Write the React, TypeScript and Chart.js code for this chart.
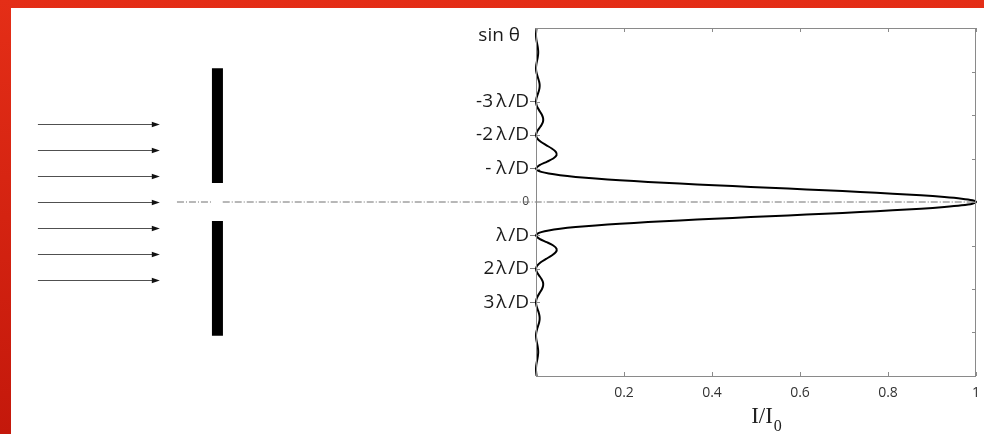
import React, { useEffect, useRef } from 'react';
import { Chart, registerables } from 'chart.js';

Chart.register(...registerables);

// sin θ in units of λ/D (axis reversed: negative values at the top)
const sinTheta = [
  -5.2, -5.1, -5.0, -4.9, -4.8, -4.7, -4.6, -4.5, -4.4, -4.3, -4.2, -4.1,
  -4.0, -3.9, -3.8, -3.7, -3.6, -3.5, -3.4, -3.3, -3.2, -3.1,
  -3.0, -2.9, -2.8, -2.7, -2.6, -2.5, -2.4, -2.3, -2.2, -2.1,
  -2.0, -1.9, -1.8, -1.7, -1.6, -1.5, -1.4, -1.3, -1.2, -1.1,
  -1.0, -0.95, -0.9, -0.85, -0.8, -0.75, -0.7, -0.65, -0.6, -0.55, -0.5,
  -0.45, -0.4, -0.35, -0.3, -0.25, -0.2, -0.15, -0.1, -0.05,
  0,
  0.05, 0.1, 0.15, 0.2, 0.25, 0.3, 0.35, 0.4, 0.45,
  0.5, 0.55, 0.6, 0.65, 0.7, 0.75, 0.8, 0.85, 0.9, 0.95, 1.0,
  1.1, 1.2, 1.3, 1.4, 1.5, 1.6, 1.7, 1.8, 1.9, 2.0,
  2.1, 2.2, 2.3, 2.4, 2.5, 2.6, 2.7, 2.8, 2.9, 3.0,
  3.1, 3.2, 3.3, 3.4, 3.5, 3.6, 3.7, 3.8, 3.9, 4.0,
  4.1, 4.2, 4.3, 4.4, 4.5, 4.6, 4.7, 4.8, 4.9, 5.0, 5.1, 5.2,
];

// I / I0
const intensity = [
  0.0013, 0.0004, 0, 0.0004, 0.0015, 0.0030, 0.0043, 0.0050, 0.0047, 0.0036, 0.0020, 0.0006,
  0, 0.0006, 0.0024, 0.0048, 0.0071, 0.0083, 0.0079, 0.0061, 0.0034, 0.0010,
  0, 0.0012, 0.0045, 0.0091, 0.0136, 0.0162, 0.0159, 0.0125, 0.0072, 0.0022,
  0, 0.0027, 0.0108, 0.0230, 0.0358, 0.0450, 0.0468, 0.0392, 0.0243, 0.0080,
  0, 0.0028, 0.0119, 0.0289, 0.0547, 0.0901, 0.1353, 0.1904, 0.2546, 0.3268, 0.4053,
  0.4881, 0.5728, 0.6566, 0.7368, 0.8106, 0.8751, 0.9281, 0.9675, 0.9918,
  1,
  0.9918, 0.9675, 0.9281, 0.8751, 0.8106, 0.7368, 0.6566, 0.5728, 0.4881,
  0.4053, 0.3268, 0.2546, 0.1904, 0.1353, 0.0901, 0.0547, 0.0289, 0.0119, 0.0028, 0,
  0.0080, 0.0243, 0.0392, 0.0468, 0.0450, 0.0358, 0.0230, 0.0108, 0.0027, 0,
  0.0022, 0.0072, 0.0125, 0.0159, 0.0162, 0.0136, 0.0091, 0.0045, 0.0012, 0,
  0.0010, 0.0034, 0.0061, 0.0079, 0.0083, 0.0071, 0.0048, 0.0024, 0.0006, 0,
  0.0006, 0.0020, 0.0036, 0.0047, 0.0050, 0.0043, 0.0030, 0.0015, 0.0004, 0, 0.0004, 0.0013,
];

const yTickValues = [-3, -2, -1, 0, 1, 2, 3];
const yTickLabels = [
  '-3\u2009λ\u200A/D',
  '-2\u2009λ\u200A/D',
  '- λ\u200A/D',
  '0',
  'λ\u200A/D',
  '2\u200Aλ\u200A/D',
  '3\u200Aλ\u200A/D',
];
const xTickValues = [0.2, 0.4, 0.6, 0.8, 1];
const xTickLabels = ['0.2', '0.4', '0.6', '0.8', '1'];
const rightTickValues = [-3.9, -2.6, -1.3, 0, 1.3, 2.6, 3.9];

// schematic: incoming plane waves and the slit (in chart units)
const arrowY = [-2.32, -1.55, -0.77, 0, 0.77, 1.55, 2.32];
const arrowStart = -1.132;
const arrowEnd = -0.855;
const slitX = -0.724;
const slitUpper = [-4.0, -0.57];
const slitLower = [0.57, 4.0];
const axisLineSegments = [
  [-0.816, -0.737],
  [-0.712, 1],
];

const Y_MIN = -5.2;
const Y_MAX = 5.2;

const decorPlugin = {
  id: 'decor',
  beforeDraw(chart: any) {
    const { ctx, width, height } = chart;
    ctx.save();
    const g = ctx.createLinearGradient(0, 0, 0, height);
    g.addColorStop(0, '#e42e17');
    g.addColorStop(1, '#c4180b');
    ctx.fillStyle = g;
    ctx.fillRect(0, 0, width, height);
    ctx.fillStyle = '#ffffff';
    ctx.fillRect(11, 8, width - 11, height - 8);
    ctx.restore();
  },
  beforeDatasetsDraw(chart: any) {
    const { ctx } = chart;
    const xs = chart.scales.x;
    const ys = chart.scales.y;
    ctx.save();
    const x0 = xs.getPixelForValue(arrowStart);
    const x1 = xs.getPixelForValue(arrowEnd);
    arrowY.forEach((v) => {
      const py = Math.round(ys.getPixelForValue(v)) + 0.5;
      ctx.strokeStyle = '#505050';
      ctx.lineWidth = 1;
      ctx.beginPath();
      ctx.moveTo(x0, py);
      ctx.lineTo(x1 - 6, py);
      ctx.stroke();
      ctx.fillStyle = '#111';
      ctx.beginPath();
      ctx.moveTo(x1, py);
      ctx.lineTo(x1 - 8, py - 2.8);
      ctx.lineTo(x1 - 8, py + 2.8);
      ctx.closePath();
      ctx.fill();
    });
    ctx.restore();
  },
  afterDraw(chart: any) {
    const { ctx, chartArea } = chart;
    const { left, right, top, bottom } = chartArea;
    const xs = chart.scales.x;
    const ys = chart.scales.y;
    ctx.save();
    ctx.strokeStyle = '#8a8a8a';
    ctx.lineWidth = 1;
    ctx.strokeRect(Math.round(left) + 0.5, Math.round(top) + 0.5, Math.round(right - left) - 1, Math.round(bottom - top));
    ctx.beginPath();
    xTickValues.forEach((v) => {
      const px = Math.round(xs.getPixelForValue(v)) + 0.5;
      ctx.moveTo(px, top);
      ctx.lineTo(px, top + 4);
      ctx.moveTo(px, bottom);
      ctx.lineTo(px, bottom - 4);
    });
    rightTickValues.forEach((v) => {
      const py = Math.round(ys.getPixelForValue(v)) + 0.5;
      ctx.moveTo(right, py);
      ctx.lineTo(right - 4, py);
    });
    yTickValues.forEach((v) => {
      if (v === 0) return;
      const py = Math.round(ys.getPixelForValue(v)) + 0.5;
      ctx.moveTo(left, py);
      ctx.lineTo(left + 4, py);
    });
    ctx.stroke();

    // sin θ label
    ctx.fillStyle = '#1a1a1a';
    ctx.font = '19px "Open Sans"';
    ctx.textAlign = 'right';
    ctx.textBaseline = 'middle';
    ctx.fillText('sin θ', left - 16, ys.getPixelForValue(Y_MIN) + 8);

    // x axis title I/I0
    ctx.textAlign = 'left';
    ctx.textBaseline = 'alphabetic';
    ctx.fillStyle = '#222';
    ctx.font = '23px "Liberation Serif"';
    const main = 'I/I';
    const wMain = ctx.measureText(main).width;
    ctx.font = '16px "Liberation Serif"';
    const wSub = ctx.measureText('0').width;
    const cx = (left + right) / 2 + 10;
    const sx = cx - (wMain + wSub) / 2;
    ctx.font = '23px "Liberation Serif"';
    ctx.fillText(main, sx, bottom + 47);
    ctx.font = '16px "Liberation Serif"';
    ctx.fillText('0', sx + wMain + 1, bottom + 55);
    ctx.restore();
  },
};

export default function App() {
  const canvasRef = useRef<HTMLCanvasElement | null>(null);

  useEffect(() => {
    document.body.style.margin = '0';
    document.body.style.overflow = 'hidden';
    const canvas = canvasRef.current;
    if (!canvas) return;

    const curve = sinTheta.map((y, i) => ({ x: intensity[i], y }));
    const slitA = slitUpper.map((y) => ({ x: slitX, y }));
    const slitB = slitLower.map((y) => ({ x: slitX, y }));

    const datasets: any[] = [
      {
        data: curve,
        showLine: true,
        borderColor: '#000',
        borderWidth: 2,
        pointRadius: 0,
        tension: 0.25,
        clip: 3,
      },
      ...axisLineSegments.map((seg) => ({
        data: seg.map((x) => ({ x, y: 0 })),
        showLine: true,
        borderColor: '#707070',
        borderWidth: 1,
        borderDash: [7, 2, 1, 2],
        pointRadius: 0,
        clip: false,
      })),
      ...[slitA, slitB].map((d) => ({
        data: d,
        showLine: true,
        borderColor: '#000',
        borderWidth: 11,
        borderCapStyle: 'butt',
        pointRadius: 0,
        clip: false,
      })),
    ];

    const chart = new Chart(canvas, {
      type: 'scatter',
      data: { datasets },
      options: {
        animation: false,
        responsive: false,
        events: [],
        layout: { padding: { left: 0, right: 8, top: 28, bottom: 0 } },
        plugins: { legend: { display: false }, tooltip: { enabled: false } },
        scales: {
          x: {
            type: 'linear',
            min: 0,
            max: 1,
            afterFit: (s: any) => {
              s.height = 58;
              s.paddingLeft = 0;
              s.paddingRight = 0;
            },
            afterBuildTicks: (s: any) => {
              s.ticks = xTickValues.map((value) => ({ value }));
            },
            ticks: {
              autoSkip: false,
              maxRotation: 0,
              padding: 9,
              color: '#333',
              font: { family: '"Open Sans"', size: 14 },
              callback: (_v: any, i: number) => xTickLabels[i],
            },
            grid: { drawOnChartArea: false, drawTicks: false },
            border: { display: false },
          },
          y: {
            type: 'linear',
            reverse: true,
            min: Y_MIN,
            max: Y_MAX,
            afterFit: (s: any) => {
              s.width = 536;
              s.paddingTop = 0;
              s.paddingBottom = 0;
            },
            afterBuildTicks: (s: any) => {
              s.ticks = yTickValues.map((value) => ({ value }));
            },
            ticks: {
              autoSkip: false,
              padding: 1,
              color: (c: any) => (c.tick && c.tick.value === 0 ? '#444' : '#1a1a1a'),
              font: (c: any) =>
                c.tick && c.tick.value === 0
                  ? { family: '"Open Sans"', size: 12 }
                  : { family: '"Open Sans"', size: 19 },
              callback: (_v: any, i: number) => yTickLabels[i],
            },
            grid: {
              drawOnChartArea: false,
              drawTicks: true,
              tickLength: 6,
              color: (c: any) => (c.tick && c.tick.value === 0 ? 'rgba(0,0,0,0)' : '#777'),
            },
            border: { display: false },
          },
        },
      },
      plugins: [decorPlugin],
    } as any);

    return () => chart.destroy();
  }, []);

  return <canvas ref={canvasRef} width={984} height={434} style={{ display: 'block' }} />;
}
